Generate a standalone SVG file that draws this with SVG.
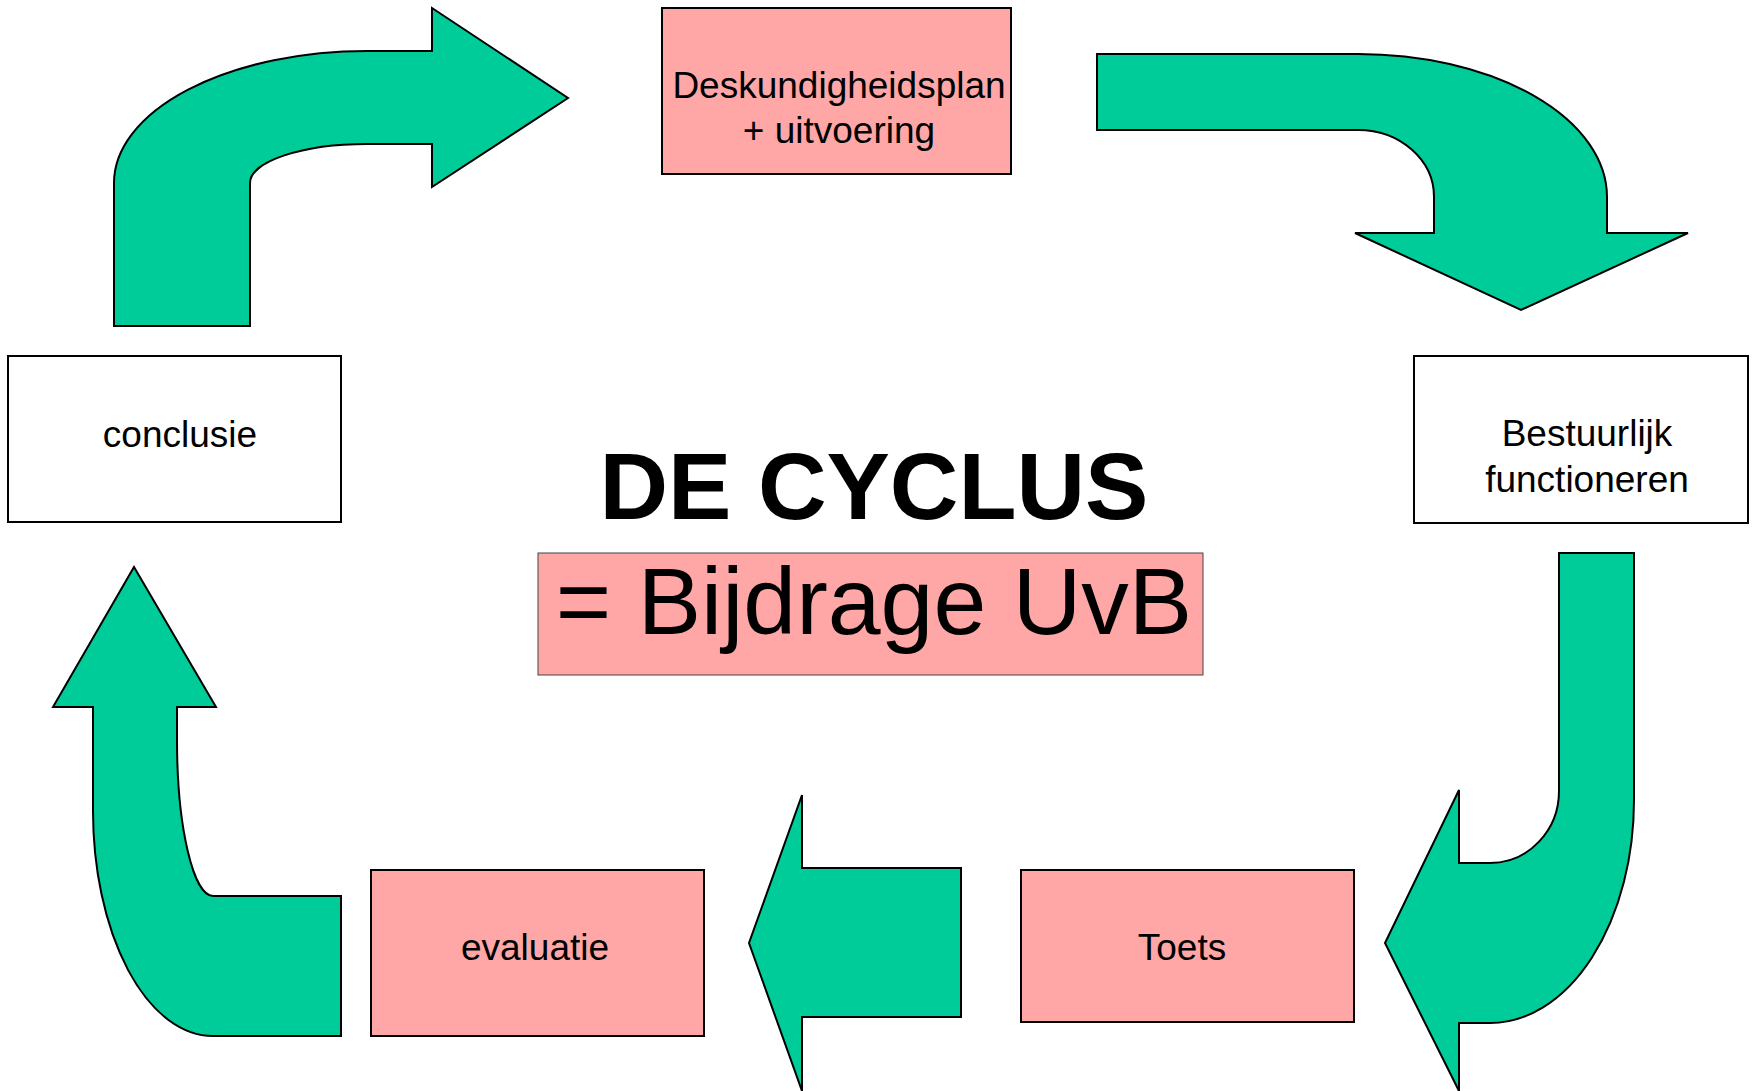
<svg xmlns="http://www.w3.org/2000/svg" width="1755" height="1091" viewBox="0 0 1755 1091">
<style>
.arrow{fill:#00CC99;stroke:#000;stroke-width:2;stroke-linejoin:miter}
.box{stroke:#000;stroke-width:2}
.pink{fill:#FFA6A6}
.white{fill:#FFFFFF}
.lbl{font-family:"Liberation Sans",Arial,sans-serif;font-size:37px;fill:#000;text-anchor:middle}
.title{font-family:"Liberation Sans",Arial,sans-serif;font-size:95px;font-weight:bold;fill:#000;text-anchor:middle}
.sub{font-family:"Liberation Sans",Arial,sans-serif;font-size:95px;fill:#000;text-anchor:middle}
</style>
<rect width="1755" height="1091" fill="#FFFFFF"/>
<g id="connectors">
  <path class="arrow" d="M114,326 V183 A253,132 0 0 1 367,51 H432 V8 L568,98 L432,187 V144 H367 A117,39 0 0 0 250,183 V326 Z"/>
  <path class="arrow" d="M1097,54 H1358 A249,143 0 0 1 1607,197 V233 H1688 L1521,310 L1355,233 H1434 V197 A76,67 0 0 0 1358,130 H1097 Z"/>
  <path class="arrow" d="M1559,553 H1634 V800 A144,223 0 0 1 1490,1023 H1459 V1091 L1385,943 L1459,790 V863 H1490 A69,72 0 0 0 1559,791 Z"/>
  <path class="arrow" d="M961,868 V1017 H802 V1091 L749,943 L802,795 V868 Z"/>
  <path class="arrow" d="M341,896 V1036 H213 A120,225 0 0 1 93,811 V707 H53 L134,567 L216,707 H177 V740 A36,156 0 0 0 213,896 Z"/>
</g>
<g id="node-deskundigheidsplan">
  <rect class="box pink" x="662" y="8" width="349" height="166"/>
  <text class="lbl" x="839" y="98">Deskundigheidsplan</text>
  <text class="lbl" x="839" y="143">+ uitvoering</text>
</g>
<g id="node-bestuurlijk">
  <rect class="box white" x="1414" y="356" width="334" height="167"/>
  <text class="lbl" x="1587" y="446">Bestuurlijk</text>
  <text class="lbl" x="1587" y="492">functioneren</text>
</g>
<g id="node-toets">
  <rect class="box pink" x="1021" y="870" width="333" height="152"/>
  <text class="lbl" x="1182" y="960">Toets</text>
</g>
<g id="node-evaluatie">
  <rect class="box pink" x="371" y="870" width="333" height="166"/>
  <text class="lbl" x="535" y="960">evaluatie</text>
</g>
<g id="node-conclusie">
  <rect class="box white" x="8" y="356" width="333" height="166"/>
  <text class="lbl" x="180" y="447">conclusie</text>
</g>
<g id="title">
  <text class="title" x="874" y="519">DE CYCLUS</text>
</g>
<g id="node-bijdrage">
  <rect x="538" y="553" width="665" height="122" fill="#FFA6A6" stroke="#444" stroke-width="1"/>
  <text class="sub" x="874" y="634">= Bijdrage UvB</text>
</g>
</svg>
